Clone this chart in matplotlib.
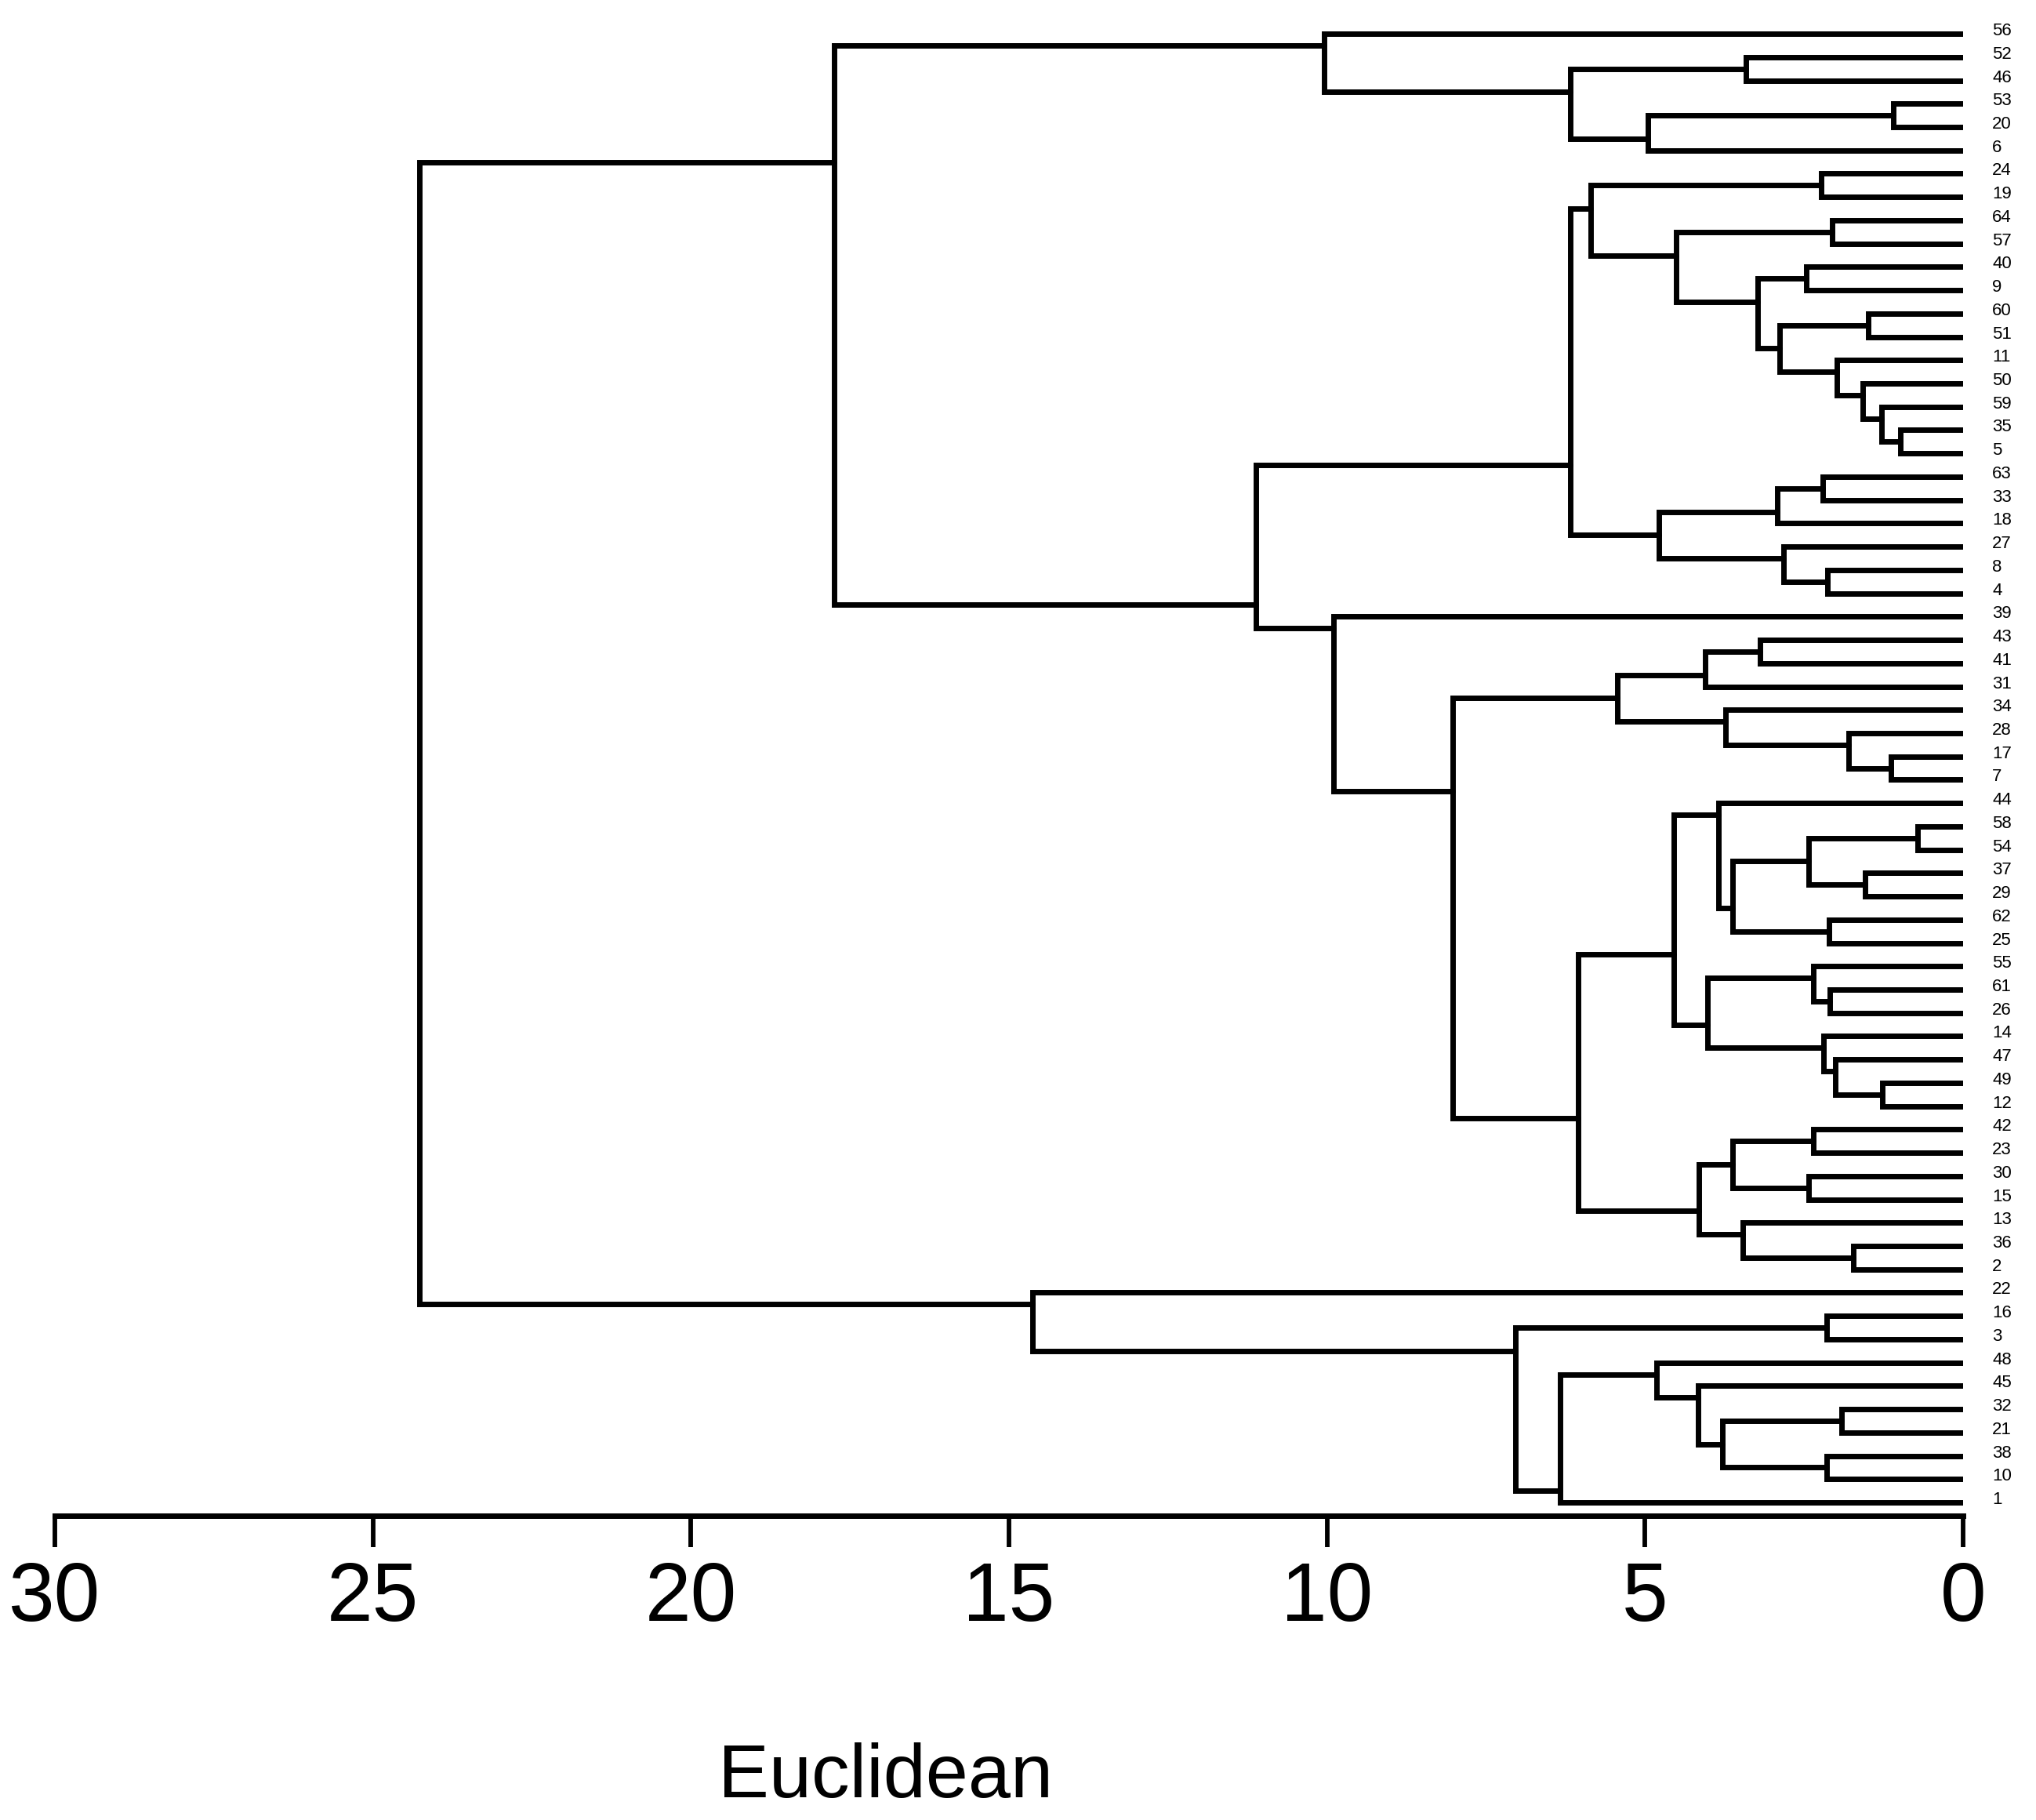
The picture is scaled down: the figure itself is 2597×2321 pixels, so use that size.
import matplotlib
matplotlib.use('Agg')
import matplotlib.pyplot as plt
from matplotlib import transforms

# leaf labels from top to bottom
leaf_order = [56, 52, 46, 53, 20, 6, 24, 19, 64, 57, 40, 9, 60, 51, 11, 50, 59, 35, 5,
              63, 33, 18, 27, 8, 4, 39, 43, 41, 31, 34, 28, 17, 7, 44, 58, 54, 37, 29,
              62, 25, 55, 61, 26, 14, 47, 49, 12, 42, 23, 30, 15, 13, 36, 2, 22, 16, 3,
              48, 45, 32, 21, 38, 10, 1]

# merges: name, upper child, lower child (leaf label or earlier merge), height
merges = [
    ('A', 53, 20, 1.10), ('B', 'A', 6, 4.96), ('C', 52, 46, 3.42),
    ('D', 'C', 'B', 6.18), ('E', 56, 'D', 10.05),
    ('F', 24, 19, 2.23), ('G', 64, 57, 2.06), ('H', 40, 9, 2.47),
    ('I', 60, 51, 1.49), ('J', 35, 5, 0.99), ('K', 59, 'J', 1.28),
    ('L', 50, 'K', 1.58), ('M', 11, 'L', 1.98), ('N', 'I', 'M', 2.88),
    ('O', 'H', 'N', 3.23), ('P', 'G', 'O', 4.51), ('Q', 'F', 'P', 5.85),
    ('R', 63, 33, 2.21), ('S', 'R', 18, 2.92), ('T', 8, 4, 2.13),
    ('U', 27, 'T', 2.82), ('V', 'S', 'U', 4.78), ('W', 'Q', 'V', 6.18),
    ('a', 43, 41, 3.19), ('b', 'a', 31, 4.05), ('c', 17, 7, 1.14),
    ('d', 28, 'c', 1.80), ('e', 34, 'd', 3.73), ('f', 'b', 'e', 5.43),
    ('g', 58, 54, 0.72), ('h', 37, 29, 1.54), ('i', 'g', 'h', 2.43),
    ('j', 62, 25, 2.11), ('k', 'i', 'j', 3.62), ('l', 44, 'k', 3.85),
    ('m', 61, 26, 2.10), ('n', 55, 'm', 2.36), ('o', 49, 12, 1.27),
    ('p', 47, 'o', 2.01), ('q', 14, 'p', 2.19), ('r', 'n', 'q', 4.02),
    ('s', 'l', 'r', 4.55), ('t', 42, 23, 2.35), ('u', 30, 15, 2.43),
    ('v', 't', 'u', 3.62), ('w', 36, 2, 1.72), ('x', 13, 'w', 3.46),
    ('y', 'v', 'x', 4.15), ('z', 's', 'y', 6.05), ('aa', 'f', 'z', 8.02),
    ('ab', 39, 'aa', 9.90), ('ac', 'W', 'ab', 11.12), ('ad', 'E', 'ac', 17.75),
    ('b1', 16, 3, 2.14), ('b2', 32, 21, 1.91), ('b3', 38, 10, 2.14),
    ('b4', 'b2', 'b3', 3.79), ('b5', 45, 'b4', 4.17), ('b6', 48, 'b5', 4.82),
    ('b7', 'b6', 1, 6.34), ('b8', 'b1', 'b7', 7.04), ('b9', 22, 'b8', 14.63),
    ('root', 'ad', 'b9', 24.27),
]

x_ticks = [30, 25, 20, 15, 10, 5, 0]
x_label = 'Euclidean'

fig = plt.figure(figsize=(25.97, 23.21), dpi=100)
ax = fig.add_axes([0.02695, 0.16717, 0.93724, 0.8272])

# x = height, y = row; span = first/last leaf row of the cluster
pos = {leaf: (0.0, i) for i, leaf in enumerate(leaf_order)}
span = {leaf: (i, i) for i, leaf in enumerate(leaf_order)}
for name, upper, lower, h in merges:
    xu, yu = pos[upper]
    xd, yd = pos[lower]
    ax.plot([xu, h, h, xd], [yu, yu, yd, yd], color='black', lw=5,
            solid_joinstyle='miter', solid_capstyle='round')
    # joint sits on the boundary between the two child groups
    pos[name] = (h, (span[upper][1] + span[lower][0]) / 2)
    span[name] = (span[upper][0], span[lower][1])

# leaf labels to the right of the tips
lab_tr = transforms.offset_copy(ax.transData, fig=fig, x=37, y=-2, units='dots')
for i, leaf in enumerate(leaf_order):
    ax.text(0, i, str(leaf), transform=lab_tr, ha='left', va='baseline',
            fontsize=16, family=['Liberation Sans', 'DejaVu Sans'], clip_on=False)

ax.set_xlim(30, 0)
ax.set_ylim(63.57, -1.01)
for side in ['top', 'right', 'left']:
    ax.spines[side].set_visible(False)
ax.spines['bottom'].set_linewidth(5)
ax.spines['bottom'].set_capstyle('projecting')
ax.set_yticks([])
ax.set_xticks(x_ticks)
ax.set_xticklabels([str(t) for t in x_ticks])
ax.tick_params(axis='x', direction='out', length=29, width=4.2, pad=12, labelsize=76)
for lab in ax.get_xticklabels():
    lab.set_family(['Liberation Sans Narrow', 'Liberation Sans', 'DejaVu Sans'])

fig.text(0.4348, 0.0125, x_label, ha='center', va='baseline', fontsize=70,
         family=['Liberation Sans', 'DejaVu Sans'])

fig.savefig('out.png', dpi=100)
